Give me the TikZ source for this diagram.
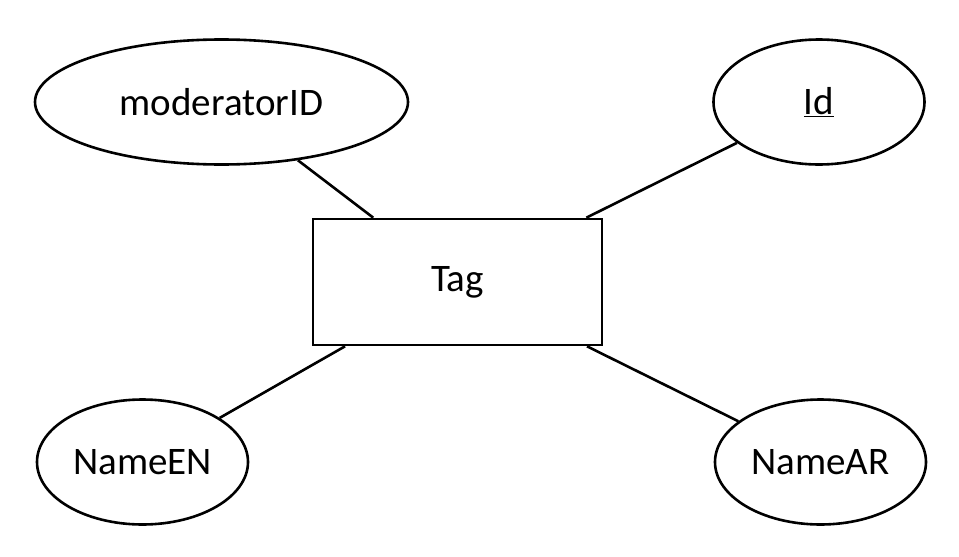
\documentclass[tikz,border=0pt]{standalone}
\usepackage{fontspec}
\setmainfont{Carlito}
\usetikzlibrary{shapes.geometric}

\begin{document}
\begin{tikzpicture}[
    x=1pt, y=-1pt,
    every node/.style={font=\fontsize{39}{46}\selectfont, draw=black, line width=2.6pt, fill=white, inner sep=0pt},
    attr/.style={ellipse, minimum width=211pt, minimum height=125pt},
    entity/.style={rectangle, minimum width=289pt, minimum height=126pt},
    link/.style={draw, line width=2.6pt}
  ]
  \useasboundingbox (0,0) rectangle (959,557);

  \node [entity] (tag) at (457.5,282) {Tag};

  \node [attr, minimum width=373pt] (moderator) at (221.5,102) {moderatorID};
  \node [attr] (id) at (819,102) {\underline{Id}};
  \node [attr] (nameen) at (142.5,462) {NameEN};
  \node [attr] (namear) at (820.5,462) {NameAR};

  % connectors behind the nodes would be hidden, so draw them edge to edge
  \draw [link] (tag) -- (moderator);
  \draw [link] (tag) -- (id);
  \draw [link] (tag) -- (nameen);
  \draw [link] (tag) -- (namear);
\end{tikzpicture}
\end{document}
